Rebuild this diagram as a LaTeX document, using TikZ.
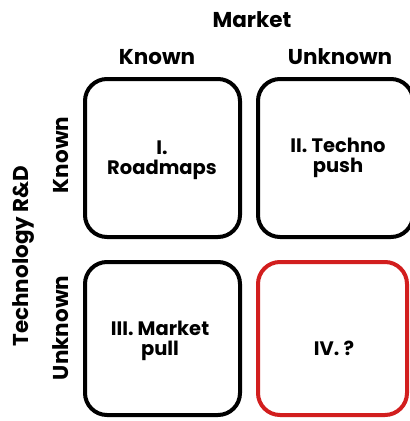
\documentclass[tikz,border=0pt]{standalone}
\usepackage{fontspec}
\setmainfont{Poppins}[BoldFont={* Bold}]
\begin{document}
\begin{tikzpicture}[x=1pt,y=-1pt,
  quad/.style={draw=black,line width=4pt,rounded corners=22pt},
  lbl/.style={font=\fontsize{21.5}{22}\selectfont\bfseries,inner sep=0pt},
  txt/.style={font=\fontsize{19.5}{20}\selectfont\bfseries,align=center,inner sep=0pt}]
\useasboundingbox[fill=white] (0,0) rectangle (410,421);
\node[lbl] (market) at (252,20) {Market};
\node[lbl] (mknown) at (157,57) {Known};
\node[lbl] (munknown) at (340,57) {Unknown};
\node[lbl,rotate=90] (tech) at (24,256) {Technology R\&D};
\node[lbl,rotate=90] (tknown) at (61,155) {Known};
\node[lbl,rotate=90] (tunknown) at (61,328) {Unknown};
\draw[quad] (85,79) rectangle (240,237);
\draw[quad] (258,79) rectangle (413,237);
\draw[quad] (85,262) rectangle (240,415);
\draw[quad,draw={rgb,255:red,210;green,30;blue,30}] (258,262) rectangle (407,415);
\node[txt] (q1) at (162,160) {I.\\Roadmaps};
\node[txt] (q2) at (338,158) {II. Techno\\push};
\node[txt] (q3) at (160,341) {III. Market\\pull};
\node[txt] (q4) at (334,348) {IV. ?};
\end{tikzpicture}
\end{document}
